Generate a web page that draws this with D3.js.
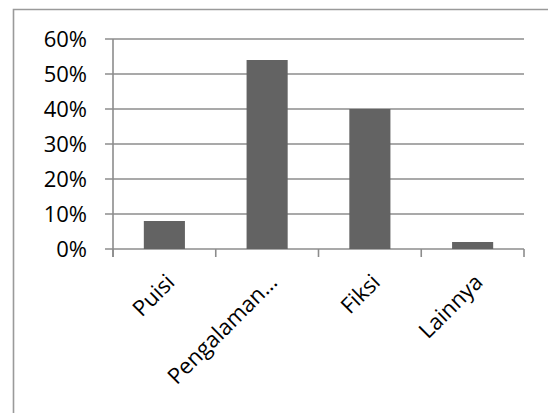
<!DOCTYPE html>
<html>
<head>
<meta charset="utf-8">
<script src="https://cdn.jsdelivr.net/npm/d3@7"></script>
<style>
  body { margin: 0; background: #fff; }
  svg { display: block; }
</style>
</head>
<body>
<div id="chart"></div>
<script>
// Data
let categories = ['Puisi', 'Pengalaman…', 'Fiksi', 'Lainnya'];
let values = [0.08, 0.54, 0.40, 0.02];
let yTicks = [0, 0.1, 0.2, 0.3, 0.4, 0.5, 0.6];

let svgWidth = 548;
let svgHeight = 413;
let margins = { top: 39, bottom: 164, left: 113, right: 24 };
let chartHeight = svgHeight - margins.top - margins.bottom;
let chartWidth = svgWidth - margins.left - margins.right;

let svg = d3.select('#chart').append('svg')
    .attr('width', svgWidth)
    .attr('height', svgHeight);

// Outer frame (only left and top edges are visible in the crop)
svg.append('path')
    .attr('d', `M13.5,${svgHeight} V9.5 H${svgWidth}`)
    .attr('fill', 'none')
    .attr('stroke', '#9a9a9a')
    .attr('stroke-width', 1.6);

let chart = svg.append('g')
    .attr('transform', `translate(${margins.left}, ${margins.top})`);

let xScale = d3.scaleBand()
    .domain(categories)
    .range([0, chartWidth])
    .paddingInner(0.6)
    .paddingOuter(0.3);
let xEdge = d3.scaleLinear()
    .domain([0, categories.length])
    .range([0, chartWidth]);
let yScale = d3.scaleLinear()
    .domain([0, 0.6])
    .range([chartHeight, 0]);

let gridColor = '#8c8c8c';
let fontSize = '22px';

// Gridlines with short outer ticks
chart.append('g')
    .selectAll('line')
    .data(yTicks).enter()
    .append('line')
    .attr('x1', -8)
    .attr('x2', chartWidth)
    .attr('y1', d => yScale(d))
    .attr('y2', d => yScale(d))
    .attr('stroke', gridColor)
    .attr('stroke-width', 1.6);

// Y axis labels
chart.append('g')
    .selectAll('text')
    .data(yTicks).enter()
    .append('text')
    .attr('x', -26)
    .attr('y', d => yScale(d))
    .attr('dy', '0.36em')
    .attr('text-anchor', 'end')
    .style('font-family', '"Open Sans", sans-serif')
    .style('font-size', fontSize)
    .style('fill', '#000')
    .text(d3.format('.0%'));

// Y axis line
chart.append('line')
    .attr('x1', 0).attr('x2', 0)
    .attr('y1', 0).attr('y2', chartHeight + 8)
    .attr('stroke', gridColor)
    .attr('stroke-width', 1.6);

// X axis category separator ticks
chart.append('g')
    .selectAll('line')
    .data(d3.range(categories.length + 1)).enter()
    .append('line')
    .attr('x1', d => xEdge(d))
    .attr('x2', d => xEdge(d))
    .attr('y1', chartHeight)
    .attr('y2', chartHeight + 8)
    .attr('stroke', gridColor)
    .attr('stroke-width', 1.6);

// Bars
chart.selectAll('rect.bar')
    .data(values).enter()
    .append('rect')
    .attr('class', 'bar')
    .attr('x', (d, i) => xScale(categories[i]))
    .attr('width', xScale.bandwidth())
    .attr('y', d => yScale(d))
    .attr('height', d => chartHeight - yScale(d))
    .attr('fill', '#636363');

// Category labels, rotated
chart.append('g')
    .selectAll('text')
    .data(categories).enter()
    .append('text')
    .attr('transform', d => `translate(${xScale(d) + xScale.bandwidth() / 2 + 6}, ${chartHeight + 29}) rotate(-45)`)
    .attr('text-anchor', 'end')
    .attr('dy', '0.36em')
    .style('font-family', '"Open Sans", sans-serif')
    .style('font-size', fontSize)
    .style('fill', '#000')
    .text(d => d);
</script>
</body>
</html>
